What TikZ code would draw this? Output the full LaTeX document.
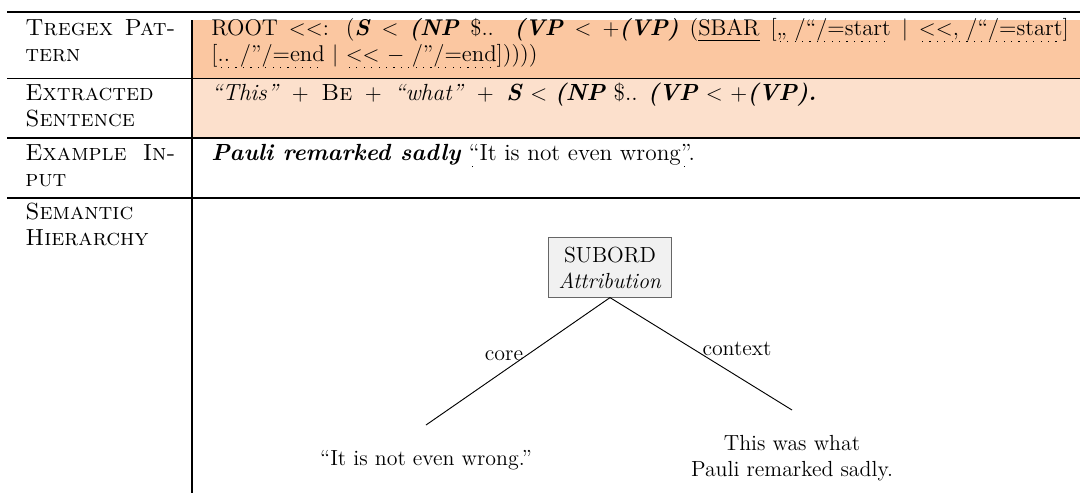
\documentclass[tikz,border=0pt]{standalone}
\definecolor{patfill}{RGB}{251,199,161}
\definecolor{sentfill}{RGB}{252,224,204}
\definecolor{boxfill}{RGB}{241,241,241}
\newcommand{\bi}[1]{\textbf{\textit{#1}}}
% dotted and solid underlines
\newcommand{\dotul}[1]{\setbox0\hbox{#1}\rlap{\lower3.6pt\hbox to \wd0{\leaders\hbox to 4pt{\hss\rule{0.65pt}{0.65pt}\hss}\hfil}}\box0\relax}
\newcommand{\solul}[1]{\setbox0\hbox{#1}\rlap{\raisebox{-3pt}{\rule{\wd0}{0.5pt}}}\box0\relax}
\tikzset{
  cell/.style={anchor=north west, inner sep=0pt, align=left, font=\fontsize{12.6}{14}\selectfont},
  tnode/.style={anchor=north, inner xsep=0pt, inner ysep=13.5pt, align=center, font=\fontsize{11.8}{14}\selectfont},
  edgelbl/.style={inner sep=0pt, font=\fontsize{11.8}{14}\selectfont},
  relbox/.style={draw=black!60, fill=boxfill, line width=0.5pt, align=center, inner sep=2pt,
    minimum width=66pt, minimum height=32pt, font=\fontsize{11.8}{14}\selectfont}
}
\begin{document}
\begin{tikzpicture}[x=5.4pt, y=5.4pt]
    \useasboundingbox (0,0) rectangle (108,-49.3);
    % shaded rows
    \fill [patfill] (19.2,-2.0) rectangle (108,-7.85);
    \fill [sentfill] (19.2,-7.85) rectangle (108,-13.8);
    % rules
    \draw [line width=1.3pt] (0.7,-1.2) -- (108,-1.2);
    \draw [line width=0.7pt] (0.7,-7.85) -- (108,-7.85);
    \draw [line width=0.7pt] (0.7,-13.8) -- (108,-13.8);
    \draw [line width=1.2pt] (0.7,-19.8) -- (108,-19.8);
    \draw [line width=0.8pt] (19.2,-2.0) -- (19.2,-49.3);
    % left column
    \node [cell] (patlbl) at (2.5,-1.69) {\strut\makebox[81pt][s]{\textsc{Tregex Pat-}}\\\textsc{tern}};
    \node [cell] (sentlbl) at (2.5,-8.19) {\strut\textsc{Extracted}\\\textsc{Sentence}};
    \node [cell] (inlbl) at (2.5,-14.19) {\strut\makebox[81pt][s]{\textsc{Example In-}}\\\textsc{put}};
    \node [cell] (hierlbl) at (2.5,-20.09) {\strut\textsc{Semantic}\\\textsc{Hierarchy}};
    % right column
    \node [cell, font=\fontsize{12.3}{14}\selectfont] (pattern) at (21.1,-1.69) {\strut\makebox[463pt][s]{ROOT $<<$: (\bi{S} $<$ \bi{(NP} \$.. \bi{(VP} $<$ $+$\bi{(VP)} (\solul{SBAR} [\dotul{,, /``/=start} $|$ \dotul{$<<$, /``/=start}]}\\{}[\dotul{.. /''/=end} $|$ \dotul{$<<$ $-$ /''/=end}]))))};
    \node [cell] (sentence) at (21.1,-8.19) {\strut\textit{``This''} ${}+{}$ \textsc{Be} ${}+{}$ \textit{``what''} ${}+{}$ \bi{S} $<$ \bi{(NP} \$.. \bi{(VP} $<$ $+$\bi{(VP).}};
    \node [cell] (input) at (21.1,-14.19) {\strut\bi{Pauli remarked sadly} \dotul{``}It is not even wrong\dotul{''.}};
    % hierarchy
    \node [relbox] (subord) at (61.0,-26.75) {SUBORD\\\textit{Attribution}};
    \node [tnode] (corenode) at (42.6,-42.5) {``It is not even wrong.''};
    \node [tnode] (ctxnode) at (79.2,-41.0) {This was what\\Pauli remarked sadly.};
    \draw [line width=0.5pt] (subord.south) -- (corenode.north);
    \draw [line width=0.5pt] (subord.south) -- (ctxnode.north);
    \node [edgelbl] (corelbl) at (50.4,-35.6) {core};
    \node [edgelbl] (ctxlbl) at (73.7,-34.9) {context};
\end{tikzpicture}
\end{document}
